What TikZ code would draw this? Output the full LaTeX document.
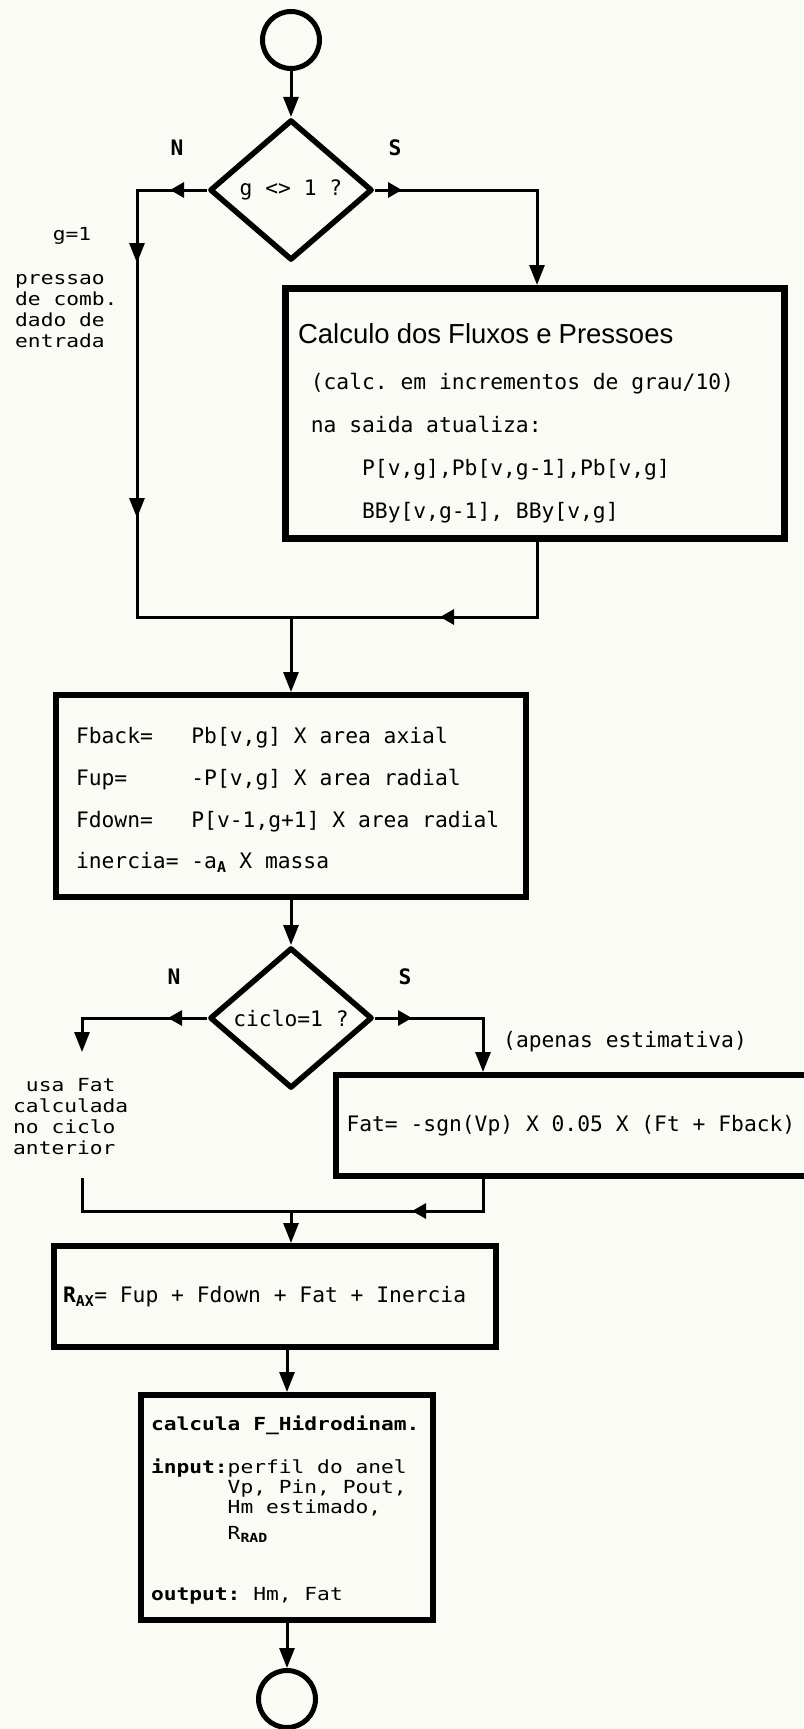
\documentclass[tikz,border=0pt]{standalone}
\usepackage{fontspec}
\setsansfont{Liberation Sans}
\setmonofont{DejaVu Sans Mono}
\newfontfamily\widemono[FakeStretch=1.18]{DejaVu Sans Mono}
\usetikzlibrary{arrows.meta,positioning,shapes.geometric,decorations.markings}
\setlength{\parindent}{0pt}
\definecolor{paper}{RGB}{251,251,246}
% column helpers for the monospaced lines
\newcommand{\skipcols}[1]{\hspace*{#1\fontcharwd\font`\M}}
\newcommand{\colbox}[2]{\makebox[#1\fontcharwd\font`\M][l]{#2}}
\newcommand{\monospaces}{\spaceskip=\fontcharwd\font`\M\relax\xspaceskip=\spaceskip}
\newcommand{\padtop}[1]{\rule{0pt}{#1}}
\tikzset{
  terminal/.style={circle, draw, line width=5pt, minimum size=57pt, inner sep=0pt},
  decision/.style={
    diamond, draw, line width=5.5pt, line join=round, fill=paper,
    minimum width=162.5pt, minimum height=140.5pt, inner sep=0pt,
    font=\ttfamily\fontsize{21.3}{24}\selectfont
  },
  process box/.style={
    rectangle, draw, line width=6pt, fill=paper, align=left,
    inner ysep=4pt, font=\ttfamily\fontsize{21.3}{42}\selectfont
  },
  branch label/.style={inner sep=0pt, font=\ttfamily\bfseries\fontsize{21.3}{24}\selectfont},
  note text/.style={inner sep=0pt, align=left, font=\widemono\fontsize{18}{21}\selectfont},
  flow line/.style={line width=3pt},
  flow arrow/.style={flow line, ->},
  tip at/.style={postaction={decorate, decoration={markings, mark=at position #1 with {\arrow{>}}}}},
  side tip at/.style={postaction={decorate, decoration={markings,
      mark=at position #1 with {\arrow{Triangle[length=14pt,width=15pt]}}}}}
}

\begin{document}
\begin{tikzpicture}[x=1pt, y=1pt, >={Triangle[length=20pt,width=15pt]}]
  \useasboundingbox[fill=paper] (0,0) rectangle (803,-1729);

  % start and first test
  \node[terminal] (start) at (291,-40) {};
  \node[decision, below=46pt of start] (dec1) {g <> 1 ?};
  \node[branch label] (dec1 no) at (177,-148) {N};
  \node[branch label] (dec1 yes) at (395,-148) {S};
  \coordinate (dec1 left) at ([xshift=-70pt]dec1.west);
  \coordinate (dec1 right) at ([xshift=162pt]dec1.east);
  \coordinate (join1) at ([yshift=-354pt]dec1.south);

  % g = 1
  \node[note text] (g one) at (72,-236) {g=1};
  \node[note text, anchor=north west] (comb) at (15,-274) {pressao\\de comb.\\dado de\\entrada};

  % g <> 1
  \node[process box, line width=7pt, minimum width=499pt, minimum height=250pt,
        text width=474pt, inner xsep=12.5pt,
        font=\ttfamily\fontsize{21.3}{43}\selectfont] (flows) at (535,-413.5)
    {{\sffamily\fontsize{27.5}{43}\selectfont\padtop{39pt}Calculo dos Fluxos e Pressoes}\\[3pt]
     \monospaces
     \skipcols{1}(calc. em incrementos de grau/10)\\
     \skipcols{1}na saida atualiza:\\
     \skipcols{5}P[v,g],Pb[v,g-1],Pb[v,g]\\
     \skipcols{5}BBy[v,g-1], BBy[v,g]};

  % forces
  \node[process box, below=75pt of join1, minimum width=470pt, minimum height=202pt,
        text width=430pt, inner xsep=20pt,
        font=\ttfamily\fontsize{21.3}{41.7}\selectfont] (forces)
    {\monospaces
     \padtop{24.4pt}\colbox{9}{Fback=}Pb[v,g] X area axial\\
     \colbox{9}{Fup=}-P[v,g] X area radial\\
     \colbox{9}{Fdown=}P[v-1,g+1] X area radial\\
     \colbox{9}{inercia=}-a\textsubscript{\textbf{A}} X massa};

  % second test
  \node[decision, below=45pt of forces] (dec2) {ciclo=1 ?};
  \node[branch label] (dec2 no) at (174,-977) {N};
  \node[branch label] (dec2 yes) at (405,-977) {S};
  \coordinate (dec2 left) at ([xshift=-125pt]dec2.west);
  \coordinate (dec2 right) at ([xshift=108pt]dec2.east);
  \coordinate (dec2 left tip) at ([yshift=-34pt]dec2 left);
  \coordinate (dec2 left back) at ([yshift=-160pt]dec2 left);

  \node[note text, anchor=north west] (old fat) at (13,-1078)
    {\skipcols{1}usa Fat\\calculada\\no ciclo\\anterior};
  \node[note text, anchor=base west, font=\ttfamily\fontsize{21.3}{24}\selectfont] (estimate)
    at (503,-1047) {(apenas estimativa)};
  \node[process box, minimum width=476pt, minimum height=101pt,
        text width=455pt, inner xsep=10.5pt] (fat) at (574,-1125.5)
    {\monospaces Fat= -sgn(Vp) X 0.05 X (Ft + Fback)};
  \path (fat.south -| dec2.south) ++(0,-32) coordinate (join2);

  % resultant and hydrodynamics
  \node[process box, below=32pt of join2, xshift=-16pt, minimum width=442pt,
        minimum height=101pt, text width=424pt, inner xsep=9pt] (result)
    {\monospaces\textbf{R}\textsubscript{\textbf{AX}}= Fup + Fdown + Fat + Inercia};
  \node[process box, below=42pt of result, xshift=12pt, minimum width=292pt,
        minimum height=225pt, text width=272pt, inner xsep=10pt,
        font=\widemono\fontsize{18}{20}\selectfont] (hidro)
    {\lineskiplimit=-20pt\relax\monospaces
     \padtop{19.3pt}\textbf{calcula F\_Hidrodinam.}\\[23pt]
     \textbf{input:}perfil do anel\\
     \skipcols{6}Vp, Pin, Pout,\\
     \skipcols{6}Hm estimado,\\[6pt]
     \skipcols{6}R\textsubscript{\textbf{RAD}}\\[41pt]
     \textbf{output:} Hm, Fat};
  \node[terminal, below=45pt of hidro] (stop) {};

  % connectors
  \draw[flow arrow] (start) -- (dec1);
  \draw[flow line, side tip at=37pt, tip at=143pt, tip at=398pt]
    (dec1.west) -- (dec1 left) -- (dec1 left |- join1) -- (join1);
  \draw[flow arrow, side tip at=27pt] (dec1.east) -- (dec1 right) -- (dec1 right |- flows.north);
  \draw[flow line, side tip at=172pt] (flows.south -| dec1 right) -- (dec1 right |- join1) -- (join1);
  \draw[flow arrow] (join1) -- (forces);
  \draw[flow arrow] (forces) -- (dec2);
  \draw[flow arrow, side tip at=39pt] (dec2.west) -- (dec2 left) -- (dec2 left tip);
  \draw[flow line] (dec2 left back) -- (dec2 left back |- join2) -- (join2);
  \draw[flow arrow, side tip at=37pt] (dec2.east) -- (dec2 right) -- (dec2 right |- fat.north);
  \draw[flow line, side tip at=103pt] (fat.south -| dec2 right) -- (dec2 right |- join2) -- (join2);
  \draw[flow arrow] (join2) -- (join2 |- result.north);
  \draw[flow arrow] (hidro.north |- result.south) -- (hidro);
  \draw[flow arrow] (hidro) -- (stop);
\end{tikzpicture}
\end{document}
